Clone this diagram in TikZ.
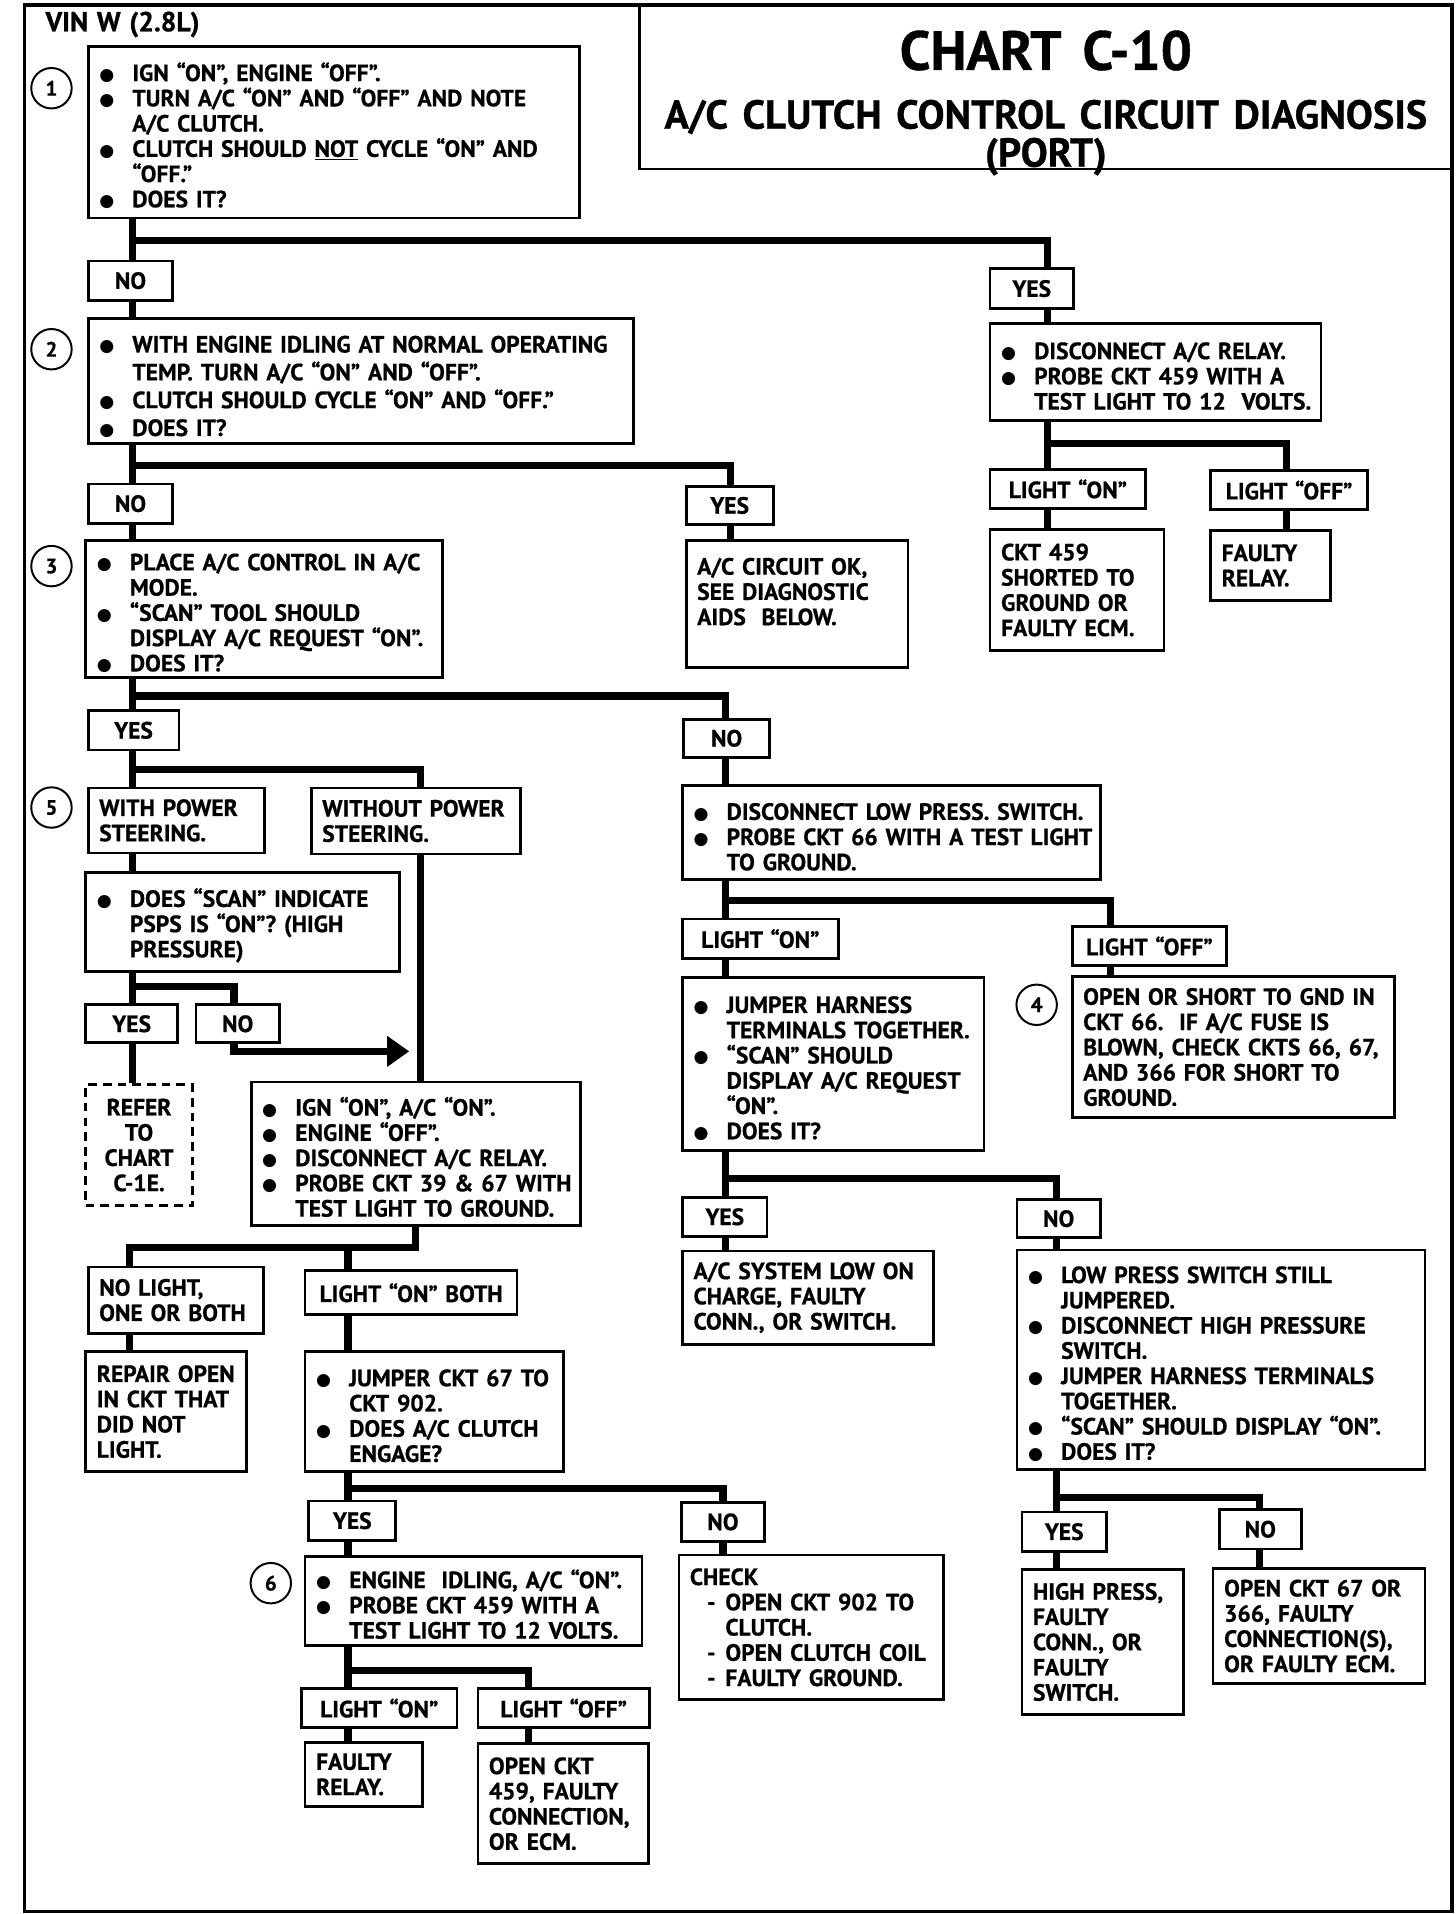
\documentclass[tikz,border=0pt]{standalone}
\usepackage{fontspec}
\setmainfont{PT Sans}[BoldFeatures={FakeBold=0.7}, WordSpace=1.25]
\newfontfamily\symf{DejaVu Sans}
\usetikzlibrary{arrows.meta}
\newcommand\bul{\raisebox{0.5pt}{\symf\fontsize{14}{14}\selectfont ●}}
\newcommand\itm[1]{\par\noindent\hangindent=27pt\hangafter=1\hbox to 27pt{\bul\hfil}#1\par}
\newcommand\dsh[1]{\par\noindent\hangindent=29pt\hangafter=1\hspace*{14pt}\hbox to 15pt{-\hfil}#1\par}
\newcommand\nl{\hfil\break}
\tikzset{
  txt/.style={font=\bfseries\fontsize{19.2}{20.6}\selectfont},
  box/.style={txt, draw, line width=2.2pt, inner xsep=0pt, inner ysep=0pt, align=left},
  lbl/.style={txt, draw, line width=2.2pt, inner sep=0pt, align=center},
  conn/.style={line width=5.8pt},
  num/.style={draw, circle, line width=1.6pt, minimum size=33pt, inner sep=0pt, font=\bfseries\fontsize{17}{17}\selectfont},
}
\newcommand\bx[7][]{%
  \pgfmathsetmacro\bxw{#5-#3}\pgfmathsetmacro\bxh{#6-#4}%
  \node[box,minimum width=\bxw pt,minimum height=\bxh pt,text width=\bxw pt,#1] (#2) at ({(#3+#5)/2},{(#4+#6)/2}) {\leftskip=9pt\relax\noindent #7\par};}
\newcommand\lb[7][]{%
  \pgfmathsetmacro\bxw{#5-#3}\pgfmathsetmacro\bxh{#6-#4}%
  \node[lbl,minimum width=\bxw pt,minimum height=\bxh pt,#1] (#2) at ({(#3+#5)/2},{(#4+#6)/2}) {#7};}
\begin{document}
\begin{tikzpicture}[x=1pt,y=-1pt]
\useasboundingbox (0,0) rectangle (1188,1562);
\draw[line width=3pt] (20,4) rectangle (1185,1560);
% title
\node[draw, line width=2.2pt, minimum width=663pt, minimum height=133pt, text width=660pt, align=center, inner sep=0pt, font=\bfseries] (title) at (853.5,71.5)
  {\fontsize{45}{45}\selectfont\spaceskip=0.38em\relax\rule{0pt}{50pt}CHART C-10\par\vspace{17pt}\fontsize{33}{31}\selectfont\spaceskip=0.36em\relax A/C CLUTCH CONTROL CIRCUIT DIAGNOSIS\par \smash{(PORT)}\par};
\node[font=\bfseries\fontsize{22.5}{22.5}\selectfont, anchor=west, inner sep=0pt] (vin) at (37,20) {VIN W (2.8L)};
% circles
\node[num] (c1) at (42,72) {1};
\node[num] (c2) at (42,285) {2};
\node[num] (c3) at (42,462) {3};
\node[num] (c5) at (42,659) {5};
\node[num] (c4) at (846,820) {4};
\node[num] (c6) at (221,1292) {6};
% boxes
\bx{b1}{72}{38}{473}{178}{\itm{IGN “ON”, ENGINE “OFF”.}\itm{TURN A/C “ON” AND “OFF” AND NOTE\nl A/C CLUTCH.}\itm{CLUTCH SHOULD \underline{NOT} CYCLE “ON” AND\nl “OFF.”}\itm{DOES IT?}}
\lb{no1}{72}{213}{141}{245}{NO}
\lb{yes1}{808}{219}{876}{252}{YES}
\bx[font=\bfseries\fontsize{19.2}{22.7}\selectfont]{b2}{72}{260}{517}{362}{\itm{WITH ENGINE IDLING AT NORMAL OPERATING\nl TEMP. TURN A/C “ON” AND “OFF”.}\itm{CLUTCH SHOULD CYCLE “ON” AND “OFF.”}\itm{DOES IT?}}
\lb{no2}{72}{395}{141}{427}{NO}
\lb{yes2}{560}{397}{631}{428}{YES}
\bx{okbox}{560}{441}{741}{545}{A/C CIRCUIT OK,\nl SEE DIAGNOSTIC\nl AIDS\ \ BELOW.\nl\mbox{}}
\bx{b3}{70}{441}{361}{553}{\itm{PLACE A/C CONTROL IN A/C\nl MODE.}\itm{“SCAN” TOOL SHOULD\nl DISPLAY A/C REQUEST “ON”.}\itm{DOES IT?}}
\lb{yes3}{72}{580}{146}{612}{YES}
\lb{no3}{558}{587}{628}{618}{NO}
\bx{withps}{72}{643}{216}{696}{WITH POWER\nl STEERING.}
\bx{woutps}{254}{643}{425}{697}{WITHOUT POWER\nl STEERING.}
\bx{psps}{70}{712}{326}{793}{\itm{DOES “SCAN” INDICATE\nl PSPS IS “ON”?\ (HIGH\nl PRESSURE)}}
\lb{yes4}{70}{820}{145}{851}{YES}
\lb{no4}{160}{820}{228}{851}{NO}
\lb[dashed, dash pattern=on 7pt off 5pt]{refer}{70}{885}{157}{984}{REFER\\TO\\CHART\\C-1E.}
\bx{ign}{205}{883}{474}{1000}{\itm{IGN “ON”, A/C “ON”.}\itm{ENGINE “OFF”.}\itm{DISCONNECT A/C RELAY.}\itm{PROBE CKT 39 \& 67 WITH\nl TEST LIGHT TO GROUND.}}
\bx{nolight}{72}{1034}{215}{1088}{NO LIGHT,\nl ONE OR BOTH}
\bx{repair}{70}{1103}{201}{1201}{REPAIR OPEN\nl IN CKT THAT\nl DID NOT\nl LIGHT.}
\lb{lonboth}{249}{1037}{422}{1073}{LIGHT “ON” BOTH}
\bx{jump67}{249}{1103}{460}{1201}{\itm{JUMPER CKT 67 TO\nl CKT 902.}\itm{DOES A/C CLUTCH\nl ENGAGE?}}
\lb{yes5}{252}{1225}{323}{1257}{YES}
\lb{no5}{556}{1226}{624}{1258}{NO}
\bx{b6}{249}{1270}{524}{1343}{\itm{ENGINE\ \ IDLING, A/C “ON”.}\itm{PROBE CKT 459 WITH A\nl TEST LIGHT TO 12 VOLTS.}}
\bx{check}{554}{1269}{770}{1387}{CHECK\dsh{OPEN CKT 902 TO\nl CLUTCH.}\dsh{OPEN CLUTCH COIL}\dsh{FAULTY GROUND.}}
\lb{lon6}{246}{1378}{373}{1410}{LIGHT “ON”}
\lb{loff6}{390}{1378}{530}{1410}{LIGHT “OFF”}
\bx{frelay2}{249}{1422}{345}{1474}{FAULTY\nl RELAY.}
\bx{open459}{390}{1423}{529}{1521}{OPEN CKT\nl 459, FAULTY\nl CONNECTION,\nl OR ECM.}
\bx{relay}{808}{264}{1078}{343}{\itm{DISCONNECT A/C RELAY.}\itm{PROBE CKT 459 WITH A\nl TEST LIGHT TO 12\ \ VOLTS.}}
\lb{lon1}{808}{383}{935}{415}{LIGHT “ON”}
\lb{loff1}{988}{384}{1116}{416}{LIGHT “OFF”}
\bx{short459}{808}{432}{950}{531}{CKT 459\nl SHORTED TO\nl GROUND OR\nl FAULTY ECM.}
\bx{frelay1}{988}{433}{1086}{490}{FAULTY\nl RELAY.}
\bx{lowp}{557}{641}{898}{718}{\itm{DISCONNECT LOW PRESS. SWITCH.}\itm{PROBE CKT 66 WITH A TEST LIGHT\nl TO GROUND.}}
\lb{lon4}{557}{750}{684}{782}{LIGHT “ON”}
\lb{loff4}{875}{756}{1001}{788}{LIGHT “OFF”}
\bx{gnd}{875}{797}{1138}{912}{OPEN OR SHORT TO GND IN\nl CKT 66.\ \ IF A/C FUSE IS\nl BLOWN, CHECK CKTS 66, 67,\nl AND 366 FOR SHORT TO\nl GROUND.}
\bx{harness}{557}{798}{803}{939}{\itm{JUMPER HARNESS\nl TERMINALS TOGETHER.}\itm{“SCAN” SHOULD\nl DISPLAY A/C REQUEST\nl “ON”.}\itm{DOES IT?}}
\lb{yes6}{557}{977}{626}{1009}{YES}
\lb{no6}{830}{979}{898}{1010}{NO}
\bx{sysl}{557}{1021}{762}{1097}{A/C SYSTEM LOW ON\nl CHARGE, FAULTY\nl CONN., OR SWITCH.}
\bx{lps}{830}{1020}{1163}{1199}{\itm{LOW PRESS SWITCH STILL\nl JUMPERED.}\itm{DISCONNECT HIGH PRESSURE\nl SWITCH.}\itm{JUMPER HARNESS TERMINALS\nl TOGETHER.}\itm{“SCAN” SHOULD DISPLAY “ON”.}\itm{DOES IT?}}
\lb{yes7}{834}{1234}{903}{1266}{YES}
\lb{no7}{995}{1232}{1062}{1264}{NO}
\bx{hp}{834}{1281}{966}{1399}{HIGH PRESS,\nl FAULTY\nl CONN., OR\nl FAULTY\nl SWITCH.}
\bx{o67}{990}{1280}{1163}{1374}{OPEN CKT 67 OR\nl 366, FAULTY\nl CONNECTION(S),\nl OR FAULTY ECM.}
% connectors
\coordinate (tip) at (334,858);
\draw[conn] (b1.south -| 108,0) -- (no1.north -| 108,0);
\draw[conn] (b1.south -| 108,0) |- (855,196) -- (yes1.north -| 855,0);
\draw[conn] (yes1.south -| 855,0) -- (relay.north -| 855,0);
\draw[conn] (relay.south -| 855,0) -- (lon1.north -| 855,0);
\draw[conn] (relay.south -| 855,0) |- (1050,362) -- (loff1.north -| 1050,0);
\draw[conn] (lon1.south -| 855,0) -- (short459.north -| 855,0);
\draw[conn] (loff1.south -| 1050,0) -- (frelay1.north -| 1050,0);
\draw[conn] (no1.south -| 108,0) -- (b2.north -| 108,0);
\draw[conn] (b2.south -| 108,0) -- (no2.north -| 108,0);
\draw[conn] (b2.south -| 108,0) |- (596,380) -- (yes2.north -| 596,0);
\draw[conn] (yes2.south -| 596,0) -- (okbox.north -| 596,0);
\draw[conn] (no2.south -| 108,0) -- (b3.north -| 108,0);
\draw[conn] (b3.south -| 108,0) -- (yes3.north -| 108,0);
\draw[conn] (b3.south -| 108,0) |- (592,568) -- (no3.north -| 592,0);
\draw[conn] (yes3.south -| 108,0) -- (withps.north -| 108,0);
\draw[conn] (yes3.south -| 108,0) |- (343,628) -- (woutps.north -| 343,0);
\draw[conn] (withps.south -| 108,0) -- (psps.north -| 108,0);
\draw[conn] (psps.south -| 108,0) -- (yes4.north -| 108,0);
\draw[conn] (psps.south -| 108,0) |- (191,805) -- (no4.north -| 191,0);
\draw[conn] (yes4.south -| 108,0) -- (refer.north -| 108,0);
\draw[conn,-{Triangle[length=18pt,width=24pt]}] (no4.south -| 191,0) |- (tip);
\draw[conn] (woutps.south -| 343,0) -- (ign.north -| 343,0);
\draw[conn] (ign.south -| 339,0) |- (106,1018) -- (nolight.north -| 106,0);
\draw[conn] (ign.south -| 339,0) |- (284,1018) -- (lonboth.north -| 284,0);
\draw[conn] (nolight.south -| 106,0) -- (repair.north -| 106,0);
\draw[conn] (lonboth.south -| 284,0) -- (jump67.north -| 284,0);
\draw[conn] (jump67.south -| 284,0) -- (yes5.north -| 284,0);
\draw[conn] (jump67.south -| 284,0) |- (590,1215) -- (no5.north -| 590,0);
\draw[conn] (yes5.south -| 284,0) -- (b6.north -| 284,0);
\draw[conn] (no5.south -| 590,0) -- (check.north -| 590,0);
\draw[conn] (b6.south -| 284,0) -- (lon6.north -| 284,0);
\draw[conn] (b6.south -| 284,0) |- (431,1363) -- (loff6.north -| 431,0);
\draw[conn] (lon6.south -| 284,0) -- (frelay2.north -| 284,0);
\draw[conn] (loff6.south -| 431,0) -- (open459.north -| 431,0);
\draw[conn] (no3.south -| 592,0) -- (lowp.north -| 592,0);
\draw[conn] (lowp.south -| 592,0) -- (lon4.north -| 592,0);
\draw[conn] (lowp.south -| 592,0) |- (906,735) -- (loff4.north -| 906,0);
\draw[conn] (lon4.south -| 592,0) -- (harness.north -| 592,0);
\draw[conn] (loff4.south -| 906,0) -- (gnd.north -| 906,0);
\draw[conn] (harness.south -| 592,0) -- (yes6.north -| 592,0);
\draw[conn] (harness.south -| 592,0) |- (862,962) -- (no6.north -| 862,0);
\draw[conn] (yes6.south -| 592,0) -- (sysl.north -| 592,0);
\draw[conn] (no6.south -| 862,0) -- (lps.north -| 862,0);
\draw[conn] (lps.south -| 862,0) -- (yes7.north -| 862,0);
\draw[conn] (lps.south -| 862,0) |- (1028,1222) -- (no7.north -| 1028,0);
\draw[conn] (yes7.south -| 862,0) -- (hp.north -| 862,0);
\draw[conn] (no7.south -| 1028,0) -- (o67.north -| 1028,0);
\end{tikzpicture}
\end{document}
